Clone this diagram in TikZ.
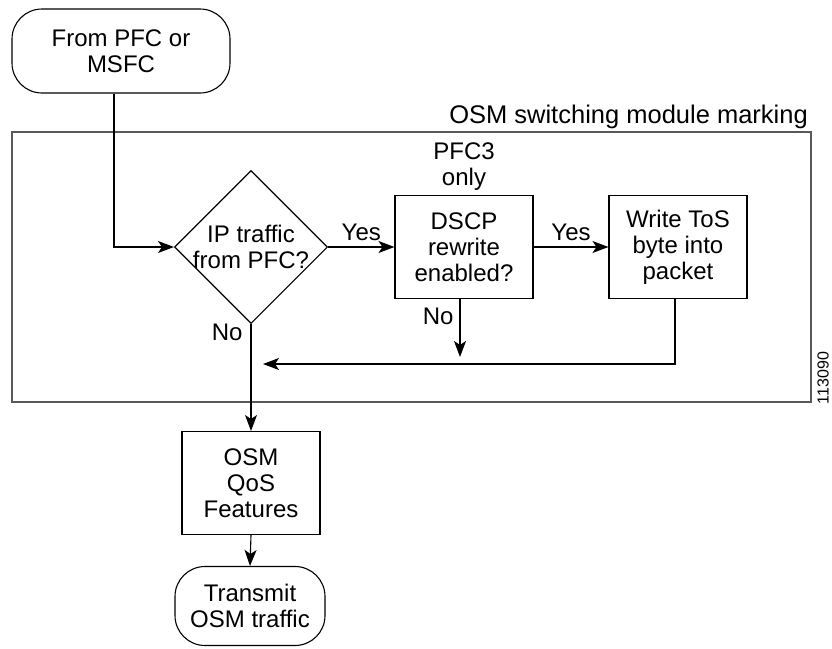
\documentclass[tikz,border=0pt]{standalone}
\usepackage{fontspec}
\setmainfont{Liberation Sans}
\usetikzlibrary{shapes.geometric,arrows.meta,positioning,calc}

\begin{document}
\begin{tikzpicture}[x=1pt,y=-1pt,
    font=\fontsize{24}{26}\selectfont,
    every node/.style={align=center},
    terminal/.style={draw,rounded corners=30pt,line width=1.1pt,inner sep=0pt},
    process/.style={draw,line width=1.1pt,minimum width=138pt,minimum height=103pt,inner sep=0pt},
    decision/.style={draw,diamond,aspect=1,minimum size=153pt,inner sep=-4pt,line width=1.1pt},
    flow/.style={line width=1.1pt,-{Stealth[length=16pt,width=12pt,inset=4pt]}},
    frame/.style={draw=black!65,line width=1.4pt},
    lbl/.style={inner sep=0pt}]
    \useasboundingbox (0,0) rectangle (832,648);

    % Marking region
    \draw [frame] (12,132) rectangle (811,402);
    \node [lbl,anchor=base east,font=\fontsize{25.5}{28}\selectfont] (region) at (808,123) {OSM switching module marking};
    \node [lbl,rotate=90,font=\fontsize{16}{18}\selectfont] (figid) at (823,378) {113090};

    % Start and end
    \node [terminal,minimum width=218pt,minimum height=84pt] (src) at (121,51) {From PFC or\\MSFC};
    \node [terminal,minimum width=150pt,minimum height=79pt] (tx) at (250,606) {Transmit\\OSM traffic};

    % Decisions and steps
    \node [decision] (ipq) at (251,247) {IP traffic\\from PFC?};
    \node [process] (dscp) at (464,247) {DSCP\\rewrite\\enabled?};
    \node [lbl,above=4pt of dscp] (pfc3) {PFC3\\only};
    \node [process] (tos) at (678,247) {Write ToS\\byte into\\packet};
    \node [process] (qos) at (251,483) {OSM\\QoS\\Features};

    \coordinate (dscpend) at (460,357);
    \coordinate (join) at (263,364);

    % Connectors
    \draw [flow] ([xshift=-7pt]src.south) |- (ipq.west);
    \draw [flow] (ipq.east) -- node [lbl,above=6pt] (yes1) {Yes} (dscp.west);
    \draw [flow] (dscp.east) -- node [lbl,above=6pt] (yes2) {Yes} (tos.west);
    \draw [flow] ([xshift=-4pt]dscp.south) -- node [lbl,pos=0.3,left=6pt] (no2) {No} (dscpend);
    \draw [flow] ([xshift=-3pt]tos.south) |- (join);
    \draw [flow] (ipq.south) -- node [lbl,pos=0.08,left=8pt] (no1) {No} (qos.north);
    \draw [flow] (qos.south) -- (tx.north);

\end{tikzpicture}
\end{document}
